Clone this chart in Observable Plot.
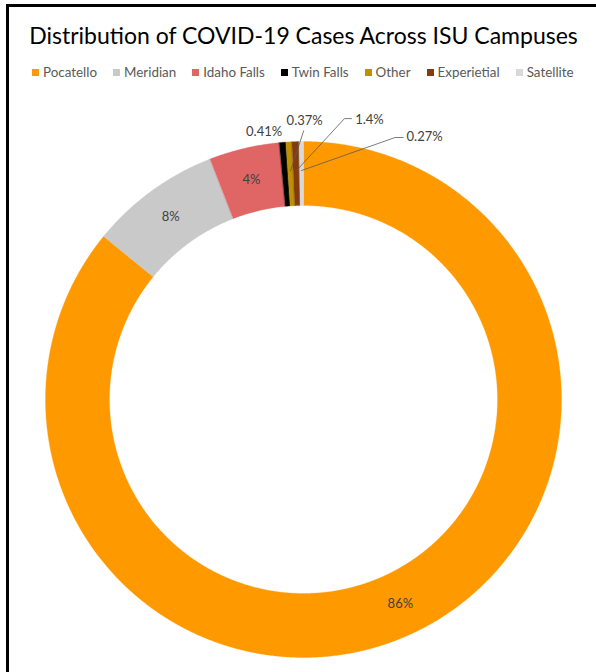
<!DOCTYPE html>
<html><head><meta charset="utf-8">
<script src="https://cdn.jsdelivr.net/npm/d3@7"></script>
<script src="https://cdn.jsdelivr.net/npm/@observablehq/plot@0.6"></script>
<style>
body{margin:0;background:#fff;}
#page{position:relative;width:596px;height:672px;overflow:hidden;background:#fff;font-family:Lato,"Open Sans",sans-serif;}
#bl{position:absolute;left:6px;top:4px;width:3px;height:668px;background:#000}
#bt{position:absolute;left:6px;top:4px;width:590px;height:3px;background:#000}
#title{position:absolute;top:21px;left:0;width:607px;text-align:center;font-size:23px;line-height:28px;color:#000;white-space:nowrap}
#legend{position:absolute;top:64px;left:32px;display:flex;gap:16px;font-size:13.4px;line-height:16px;color:#595959;white-space:nowrap}
#legend .it{display:flex;align-items:center}
#legend .sw{width:7px;height:7px;margin-right:4px}
#chart{position:absolute;top:90px;left:0}
</style>
</head><body>
<div id="page">
  <div id="bl"></div><div id="bt"></div>
  <div id="title">Distribution of COVID-19 Cases Across ISU Campuses</div>
  <div id="legend"></div>
  <div id="chart"></div>
</div>
<script>
// ---- data ----
const categories = ["Pocatello", "Meridian", "Idaho Falls", "Twin Falls", "Other", "Experietial", "Satellite"];
const shares = [85.9, 8.2, 4.4, 0.41, 0.37, 0.45, 0.27];
const labels = ["86%", "8%", "4%", "0.41%", "0.37%", "1.4%", "0.27%"];
const colors = ["#FF9900", "#C9C9C9", "#E06666", "#000000", "#BF9000", "#843C0C", "#D9D9D9"];

// ---- layout ----
const W = 596, H = 582, CX = 303, CY = 309;
const R = 258, r0 = 194, rLabel = 226, rLeader = 229;
// label offsets (px) from the slice anchor point
const labelOffsets = [[0,0],[0,0],[0,0],[-21,-42],[14,-53],[73,-54],[123,-37]];
// leader polyline points relative to label centre (null = no leader)
const leaderPts = [null, null, null, null, [[-1,10]], [[-18,-1],[-25,-1]], [[-21.5,1],[-29.5,1]]];

const rows = categories.map((name, i) => ({name, value: shares[i], label: labels[i], i}));
const arcs = d3.pie().sort(null).value(d => d.value)(rows);

const poly = arcs.flatMap(a => {
  const n = Math.max(2, Math.ceil((a.endAngle - a.startAngle) / 0.005));
  const pts = [];
  for (let k = 0; k <= n; k++) {
    const t = a.startAngle + (a.endAngle - a.startAngle) * k / n;
    pts.push({name: a.data.name, x: R * Math.sin(t), y: -R * Math.cos(t)});
  }
  for (let k = n; k >= 0; k--) {
    const t = a.startAngle + (a.endAngle - a.startAngle) * k / n;
    pts.push({name: a.data.name, x: r0 * Math.sin(t), y: -r0 * Math.cos(t)});
  }
  return pts;
});

const textRows = arcs.map(a => {
  const m = (a.startAngle + a.endAngle) / 2;
  const o = labelOffsets[a.data.i];
  return {label: a.data.label, x: rLabel * Math.sin(m) + o[0], y: -rLabel * Math.cos(m) + o[1]};
});

const leaderRows = arcs.flatMap(a => {
  const lp = leaderPts[a.data.i];
  if (!lp) return [];
  const m = (a.startAngle + a.endAngle) / 2;
  const t = textRows[a.data.i];
  const pts = lp.map(p => ({g: a.data.name, x: t.x + p[0], y: t.y + p[1]}));
  pts.push({g: a.data.name, x: rLeader * Math.sin(m), y: -rLeader * Math.cos(m)});
  return pts;
});

const chart = Plot.plot({
  width: W, height: H, margin: 0,
  style: {fontFamily: "Lato, 'Open Sans', sans-serif", background: "transparent"},
  x: {domain: [-CX, W - CX], range: [0, W], axis: null},
  y: {domain: [-CY, H - CY], range: [0, H], axis: null},
  color: {domain: categories, range: colors},
  marks: [
    Plot.line(poly, {x: "x", y: "y", z: "name", fill: "name", stroke: "name", strokeWidth: 0.3, curve: "linear-closed"}),
    Plot.line(leaderRows, {x: "x", y: "y", z: "g", stroke: "#595959", strokeWidth: 0.8}),
    Plot.text(textRows, {x: "x", y: "y", text: "label", fill: "#404040", fontSize: 13})
  ]
});
document.getElementById("chart").appendChild(chart);

const lg = document.getElementById("legend");
categories.forEach((c, i) => {
  const it = document.createElement("div"); it.className = "it";
  const sw = document.createElement("span"); sw.className = "sw"; sw.style.background = colors[i];
  const tx = document.createElement("span"); tx.textContent = c;
  it.appendChild(sw); it.appendChild(tx); lg.appendChild(it);
});
</script>
</body></html>
